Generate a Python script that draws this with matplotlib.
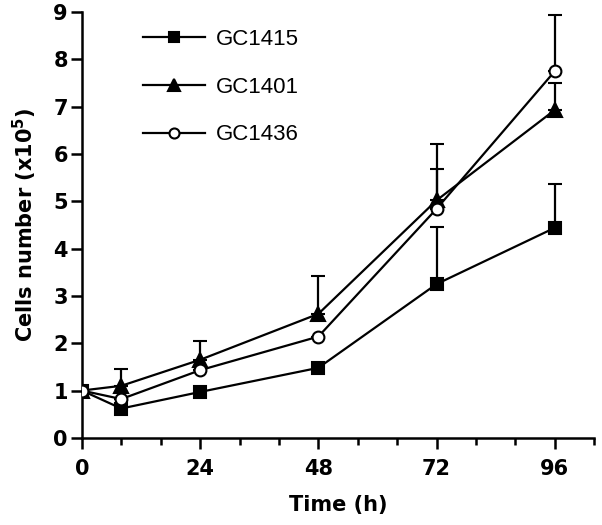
import matplotlib
matplotlib.use("Agg")
import matplotlib.pyplot as plt
from matplotlib.ticker import MultipleLocator

# Growth curves, cells number (x10^5) over time (h)
time_h = [0, 8, 24, 48, 72, 96]

gc1415 = [1.0, 0.62, 0.97, 1.48, 3.25, 4.44]
gc1415_err = [0.0, 0.0, 0.0, 0.0, 1.2, 0.93]

gc1401 = [1.0, 1.1, 1.65, 2.62, 5.02, 6.93]
gc1401_err = [0.0, 0.35, 0.4, 0.8, 1.19, 0.57]

gc1436 = [1.0, 0.82, 1.43, 2.14, 4.84, 7.75]
gc1436_err = [0.0, 0.0, 0.0, 0.0, 0.84, 1.19]

series = [
    ("GC1415", gc1415, gc1415_err, dict(marker="s", markersize=9, markerfacecolor="black")),
    ("GC1401", gc1401, gc1401_err, dict(marker="^", markersize=10.5, markerfacecolor="black")),
    ("GC1436", gc1436, gc1436_err, dict(marker="o", markersize=8.5, markerfacecolor="white")),
]

fig = plt.figure(figsize=(6.02, 5.25), dpi=100)
ax = fig.add_axes([0.136, 0.166, 0.851, 0.811])

for name, vals, err, style in series:
    ax.errorbar(time_h, vals, yerr=[[0] * len(err), err], color="black",
                lw=1.6, elinewidth=1.6, capsize=5, capthick=1.6,
                markeredgecolor="black", markeredgewidth=1.5,
                label=name, zorder=3, **style)

ax.set_xlim(0, 104)
ax.set_ylim(0, 9)
ax.xaxis.set_major_locator(MultipleLocator(24))
ax.xaxis.set_minor_locator(MultipleLocator(8))
ax.yaxis.set_major_locator(MultipleLocator(1))

ax.spines["top"].set_visible(False)
ax.spines["right"].set_visible(False)
for s in ("left", "bottom"):
    ax.spines[s].set_linewidth(1.8)

ax.tick_params(axis="y", which="major", length=8, width=1.8,
               labelsize=15, pad=2)
ax.tick_params(axis="x", which="major", length=8, width=1.8,
               labelsize=15, pad=7)
ax.tick_params(axis="x", which="minor", length=5, width=1.8)
for lab in ax.get_xticklabels() + ax.get_yticklabels():
    lab.set_fontweight("bold")

ax.set_xlabel("Time (h)", fontsize=15, fontweight="bold", labelpad=12)
ax.set_ylabel("Cells number (x10$^\\mathbf{5}$)", fontsize=15, fontweight="bold", labelpad=10)

handles, labels = ax.get_legend_handles_labels()
handles = [h[0] for h in handles]
leg = ax.legend(handles, labels, loc="upper left", bbox_to_anchor=(0.119, 0.96),
                frameon=False, handlelength=2.8, handletextpad=0.5,
                labelspacing=1.2, borderpad=0, borderaxespad=0, markerscale=0.85,
                prop={"family": "Liberation Sans", "size": 16})

fig.savefig("out.png", dpi=100)
